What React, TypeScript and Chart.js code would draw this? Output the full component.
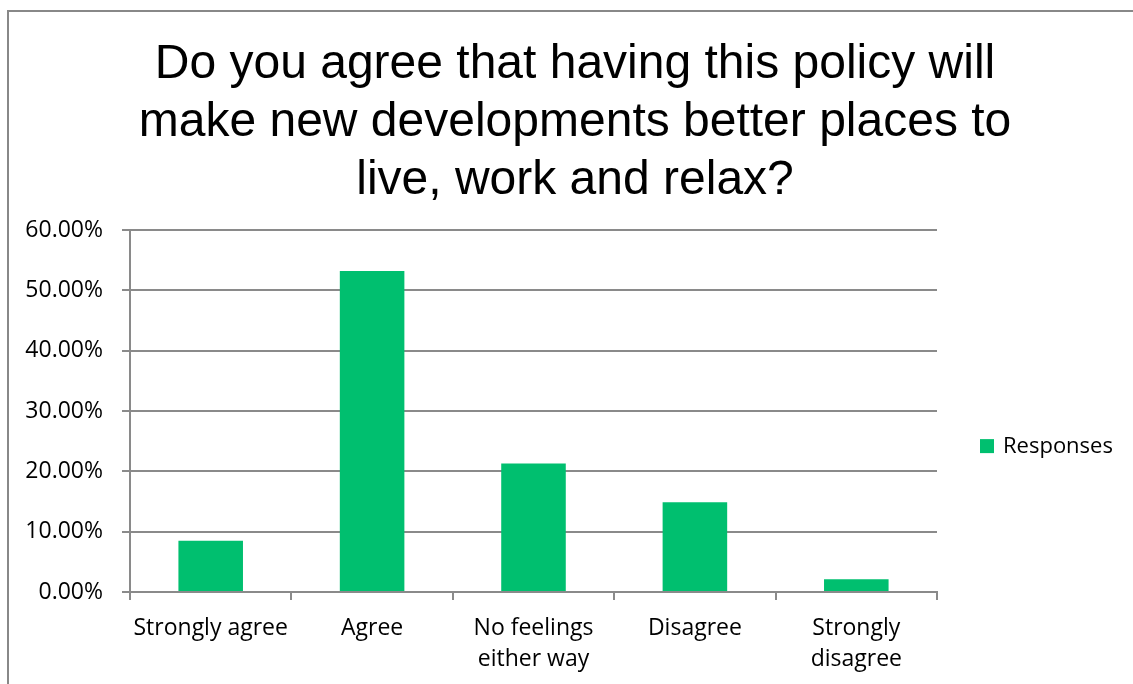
import React, { useEffect, useRef } from "react";
import { Chart, registerables } from "chart.js";

Chart.register(...registerables);

const titleLines = [
  "Do you agree that having this policy will",
  "make new developments better places to",
  "live, work and relax?",
];
const categories: (string | string[])[] = [
  "Strongly agree",
  "Agree",
  ["No feelings", "either way"],
  "Disagree",
  ["Strongly", "disagree"],
];
const seriesLabel = "Responses";
const responses = [8.51, 53.19, 21.28, 14.89, 2.13];
const yTicks = [0, 10, 20, 30, 40, 50, 60];

const BAR = "#00BF6F";
const GRID = "#8a8a8a";
const FONT = "'Open Sans', 'DejaVu Sans', sans-serif";

const frame = {
  id: "frame",
  beforeDraw(chart: any) {
    const ctx = chart.ctx;
    ctx.save();
    ctx.fillStyle = "#ffffff";
    ctx.fillRect(0, 0, chart.width, chart.height);
    ctx.strokeStyle = "#888888";
    ctx.lineWidth = 2;
    ctx.strokeRect(8, 11, chart.width + 20, chart.height + 20);
    ctx.restore();
  },
  afterDraw(chart: any) {
    const ctx = chart.ctx;
    const area = chart.chartArea;
    const ds = chart.data.datasets[0];
    const x = area.right + 43;
    const y = area.top + (area.bottom - area.top) * 0.597;
    ctx.save();
    ctx.fillStyle = ds.backgroundColor;
    ctx.fillRect(x, y - 7, 14, 14);
    ctx.fillStyle = "#000000";
    ctx.font = `22px ${FONT}`;
    ctx.textBaseline = "middle";
    ctx.textAlign = "left";
    ctx.fillText(ds.label, x + 23, y + 1);
    ctx.restore();
  },
};

export default function App() {
  const ref = useRef<HTMLCanvasElement | null>(null);
  useEffect(() => {
    if (!ref.current) return;
    const chart = new Chart(ref.current, {
      type: "bar",
      data: {
        labels: categories,
        datasets: [
          {
            label: seriesLabel,
            data: responses,
            backgroundColor: BAR,
            borderWidth: 0,
            barPercentage: 0.4,
            categoryPercentage: 1,
          },
        ],
      },
      options: {
        animation: false,
        responsive: false,
        layout: { padding: { left: 17, right: 0, top: 0, bottom: 12 } },
        plugins: {
          legend: { display: false },
          tooltip: { enabled: false },
          title: {
            display: true,
            text: titleLines,
            color: "#000000",
            font: { family: "'Liberation Sans', Arial, sans-serif", size: 48, weight: "normal", lineHeight: "58px" },
            padding: { top: 36, bottom: 20 },
          },
        },
        scales: {
          x: {
            grid: {
              display: true,
              drawOnChartArea: false,
              drawTicks: true,
              tickLength: 8,
              offset: true,
              color: GRID,
              lineWidth: 2,
            },
            border: { display: true, color: GRID, width: 2 },
            ticks: {
              color: "#000000",
              font: { family: FONT, size: 23, lineHeight: "31px" },
              padding: 13,
              maxRotation: 0,
              autoSkip: false,
            },
          },
          y: {
            min: 0,
            max: 60,
            afterBuildTicks(scale: any) {
              scale.ticks = yTicks.map((v) => ({ value: v }));
            },
            afterFit(scale: any) {
              scale.width = 113;
            },
            grid: { color: GRID, lineWidth: 2, tickLength: 8 },
            border: { display: true, color: GRID, width: 2 },
            ticks: {
              color: "#000000",
              font: { family: FONT, size: 23 },
              padding: 19,
              callback: (v: any) => Number(v).toFixed(2) + "%",
            },
          },
          spare: {
            axis: "y",
            position: "right",
            display: true,
            grid: { display: false },
            border: { display: false },
            ticks: { display: false },
            afterFit(scale: any) {
              scale.width = 196;
            },
          },
        },
      },
      plugins: [frame],
    } as any);
    return () => chart.destroy();
  }, []);
  return (
    <div style={{ position: "fixed", left: 0, top: 0, width: 1133, height: 700, background: "#fff" }}>
      <canvas ref={ref} width={1133} height={700} style={{ display: "block" }} />
    </div>
  );
}
